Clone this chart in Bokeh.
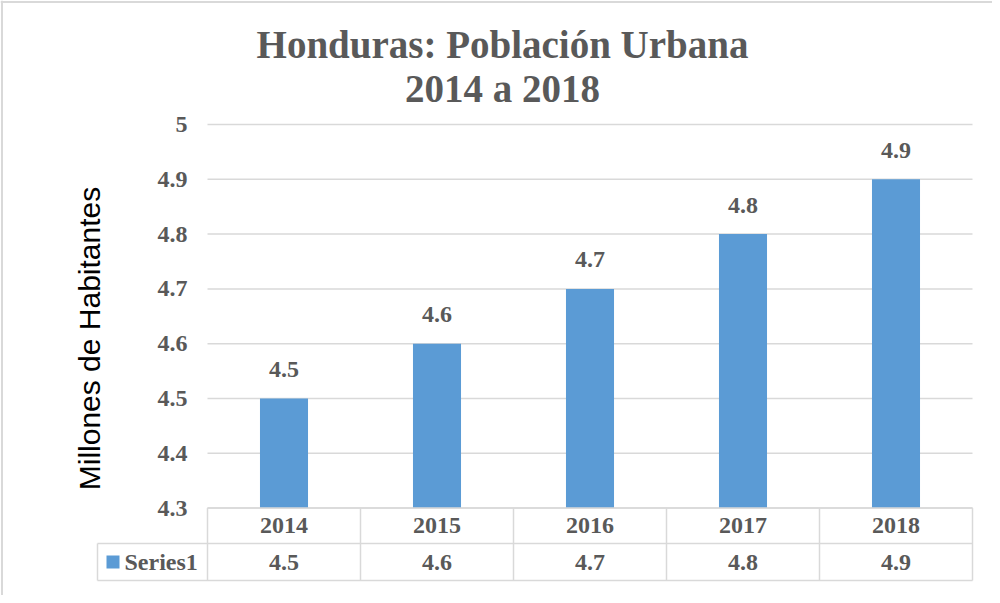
import math
from bokeh.plotting import figure
from bokeh.models import Range1d, Span
from bokeh.core.properties import value
from bokeh.embed import file_html
from bokeh.resources import INLINE

# ---------------- data ----------------
years = ["2014", "2015", "2016", "2017", "2018"]
values = [4.5, 4.6, 4.7, 4.8, 4.9]
value_labels = ["4.5", "4.6", "4.7", "4.8", "4.9"]
y_ticks = [4.3, 4.4, 4.5, 4.6, 4.7, 4.8, 4.9, 5.0]
y_tick_labels = ["4.3", "4.4", "4.5", "4.6", "4.7", "4.8", "4.9", "5"]
series_name = "Series1"
title_lines = ["Honduras: Población Urbana", "2014 a 2018"]
y_title = "Millones de Habitantes"

# ---------------- layout helpers (pixel geometry of the page) ----------------
X0_PX = 291.5      # page x of first category centre
CAT_PX = 153.0     # page px per category
Y_TOP_PX = 132.0   # page y of value 5.0
UNIT_PX = 548.0    # page px per 1.0 of value
Y_MIN, Y_MAX = 4.3, 5.0


def xd(px):
    return (px - X0_PX) / CAT_PX


def yd(py):
    return Y_MAX - (py - Y_TOP_PX) / UNIT_PX


BAR = "#5b9bd5"
TXT = "#595959"
LINE = "#d9d9d9"
SERIF = value("Liberation Serif")
SANS = value("Liberation Sans")

p = figure(width=992, height=595, output_backend="svg", toolbar_location=None,
           x_axis_location=None, y_axis_location=None, min_border=0,
           x_range=Range1d(xd(8), xd(1000)), y_range=Range1d(yd(603), yd(8)))
p.outline_line_color = None
p.background_fill_color = "white"
p.border_fill_color = "white"
for g in p.grid:
    g.visible = False

xs = list(range(len(years)))
n = len(years)

# gridlines
p.segment(x0=[-0.5] * len(y_ticks), x1=[n - 0.5] * len(y_ticks), y0=y_ticks, y1=y_ticks,
          line_color=LINE, line_width=1.5)

# bars
p.vbar(x=xs, top=values, bottom=Y_MIN, width=0.314, fill_color=BAR, line_color=None)

# data labels
p.text(x=xs, y=values, text=value_labels, y_offset=-29, text_align="center",
       text_baseline="middle", text_font=SERIF, text_font_style="bold",
       text_font_size="24px", text_color=TXT)

# y tick labels
p.text(x=[-0.5] * len(y_ticks), y=y_ticks, text=y_tick_labels, x_offset=-20,
       text_align="right", text_baseline="middle", text_font=SERIF,
       text_font_style="bold", text_font_size="24px", text_color=TXT)

# y axis title
p.text(x=[xd(97)], y=[yd(346)], text=[y_title], angle=math.pi / 2,
       text_align="center", text_baseline="middle", text_font=SANS,
       text_font_size="30px", text_color="#000000")

# title
p.text(x=[xd(510), xd(510)], y=[yd(52), yd(96)], text=title_lines,
       text_align="center", text_baseline="middle", text_font=SERIF,
       text_font_style="bold", text_font_size="39px", text_color=TXT)

# data table
row1_top, row1_bot, row2_bot = Y_MIN, yd(551), yd(588)
legend_left = xd(105)
# horizontal borders
p.segment(x0=[-0.5, legend_left, legend_left], x1=[n - 0.5] * 3,
          y0=[row1_top, row1_bot, row2_bot], y1=[row1_top, row1_bot, row2_bot],
          line_color=LINE, line_width=1.5)
# vertical borders
vx = [i - 0.5 for i in range(n + 1)]
p.segment(x0=vx, x1=vx, y0=[row1_top] * len(vx), y1=[row2_bot] * len(vx),
          line_color=LINE, line_width=1.5)
p.segment(x0=[legend_left], x1=[legend_left], y0=[row1_bot], y1=[row2_bot],
          line_color=LINE, line_width=1.5)

row1_mid = (row1_top + row1_bot) / 2
row2_mid = (row1_bot + row2_bot) / 2
p.text(x=xs, y=[row1_mid] * n, text=years, text_align="center", text_baseline="middle",
       text_font=SERIF, text_font_style="bold", text_font_size="24px", text_color=TXT)
p.text(x=xs, y=[row2_mid] * n, text=value_labels, text_align="center", text_baseline="middle",
       text_font=SERIF, text_font_style="bold", text_font_size="24px", text_color=TXT)

# legend key in table
p.scatter(x=[xd(120.5)], y=[row2_mid], marker="square", size=13, fill_color=BAR, line_color=None)
p.text(x=[xd(132)], y=[row2_mid], text=[series_name], text_align="left", text_baseline="middle",
       text_font=SERIF, text_font_style="bold", text_font_size="24px", text_color=TXT)

# chart border (top and left)
p.add_layout(Span(location=xd(9.5), dimension="height", line_color=LINE, line_width=2))
p.add_layout(Span(location=yd(9.5), dimension="width", line_color=LINE, line_width=2))

open("out.html", "w").write(file_html(p, INLINE))
